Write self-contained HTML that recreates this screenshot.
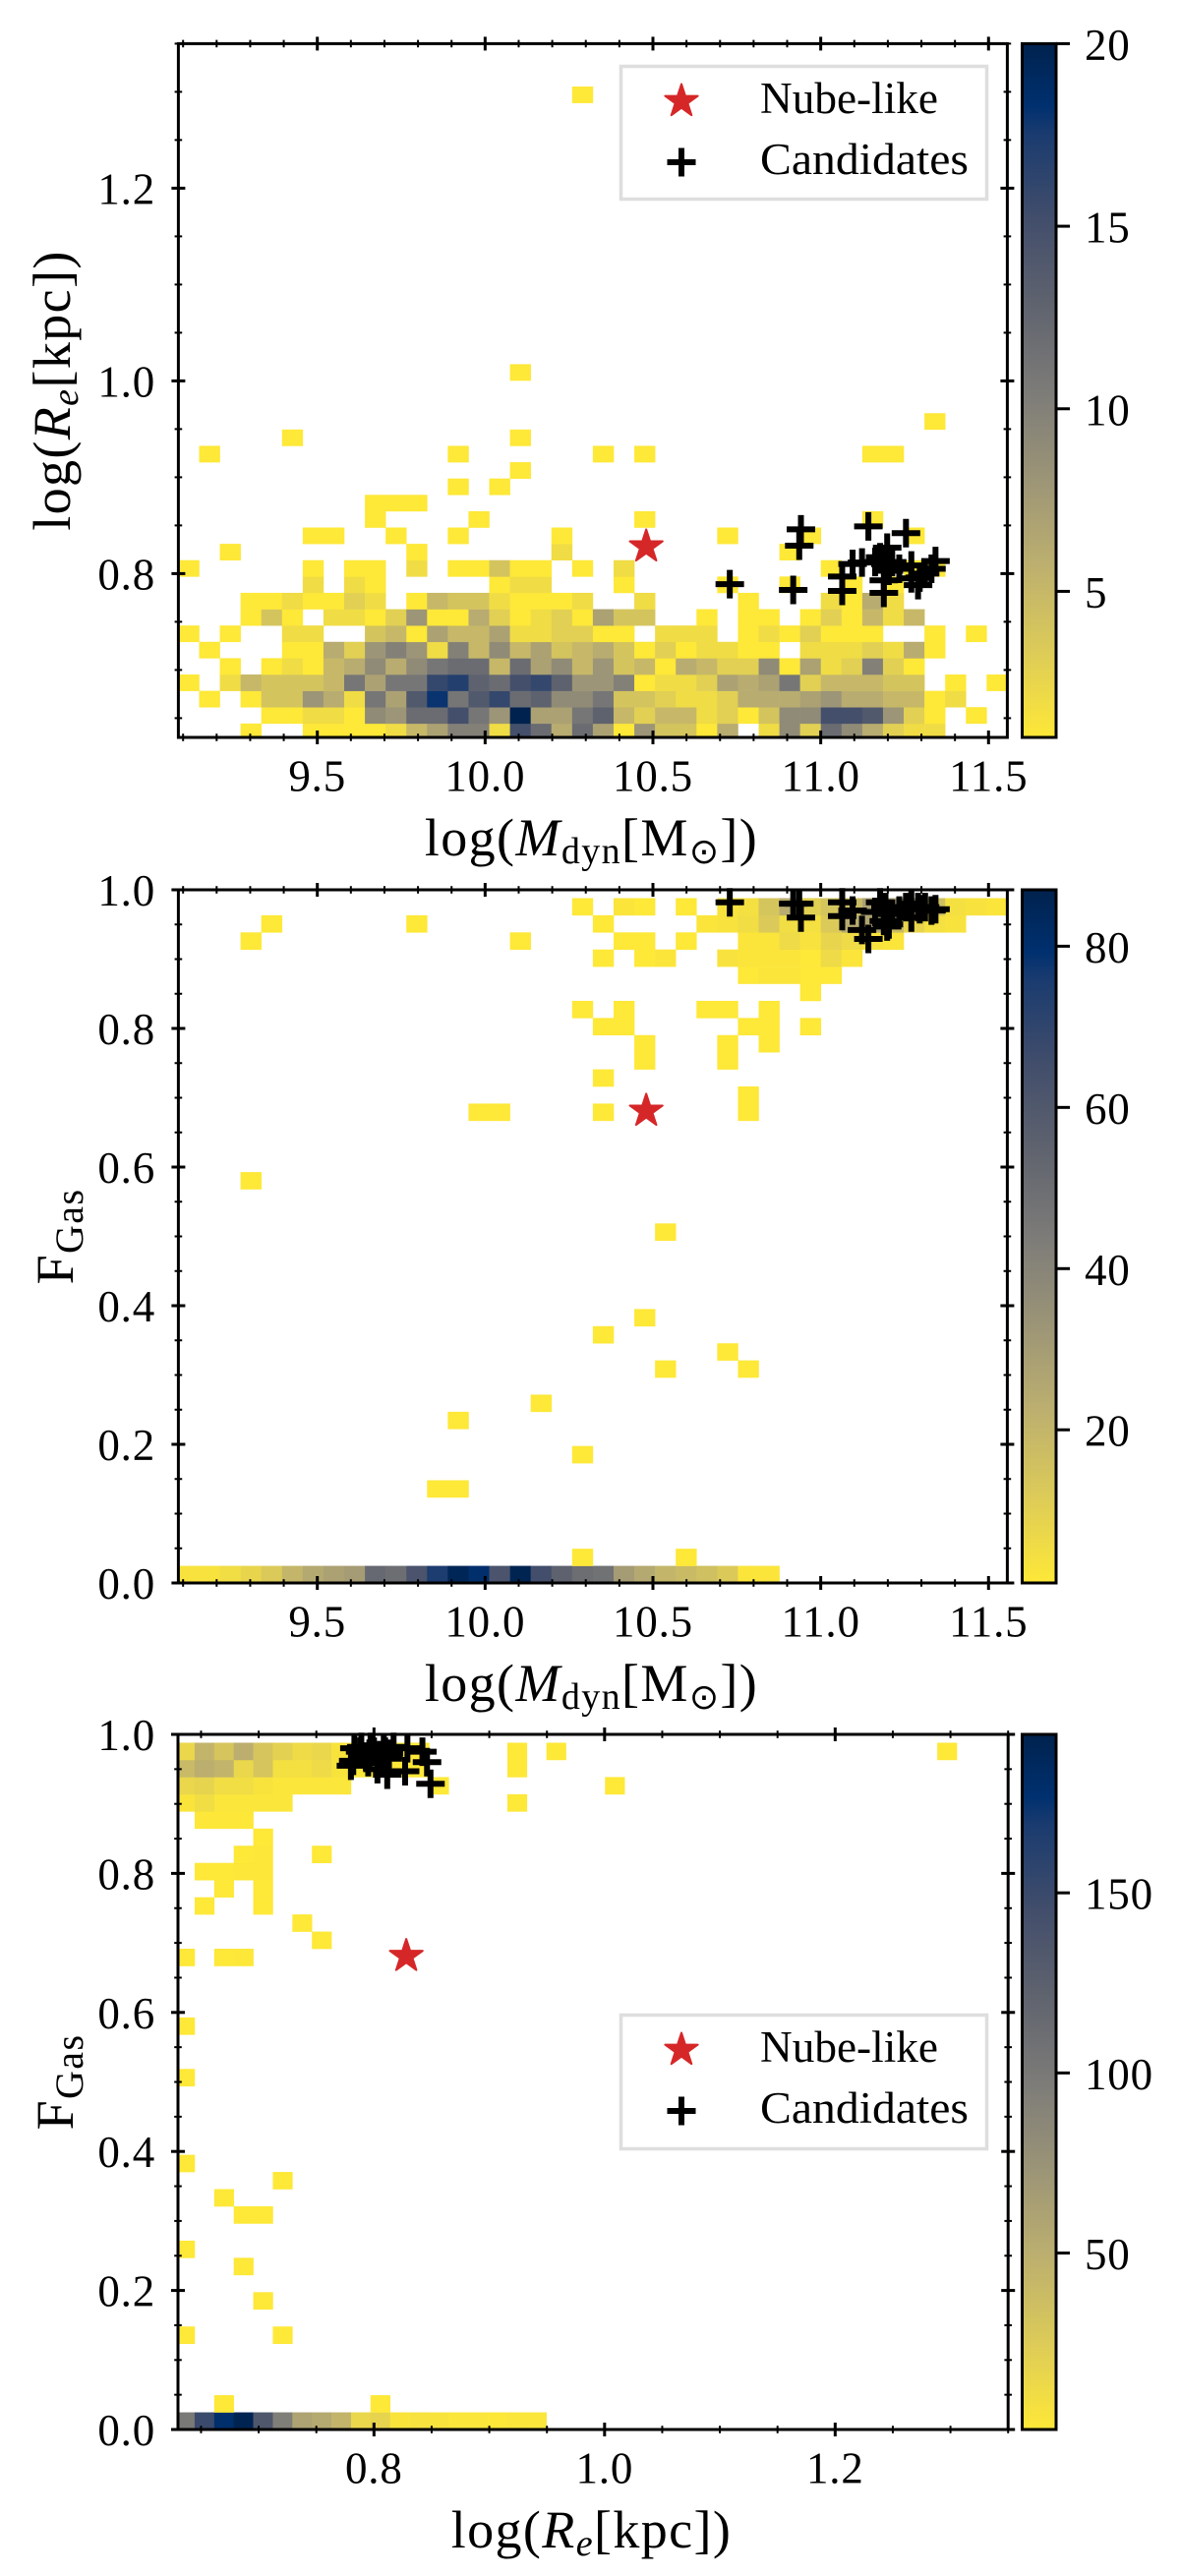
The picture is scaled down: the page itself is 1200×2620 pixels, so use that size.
<!DOCTYPE html>
<html lang="en">
<head>
<meta charset="utf-8">
<title>Nube-like candidates: binned distributions</title>
<style>
html,body{margin:0;padding:0;background:#fff;}
svg{display:block;}
text{font-family:"Liberation Serif","DejaVu Serif",serif;fill:#000;}
.axis-label{font-size:54px;letter-spacing:1.4px;}
.legend-text{font-size:45px;}
</style>
</head>
<body>
<svg id="figure" xmlns="http://www.w3.org/2000/svg" width="1200" height="2620" viewBox="0 0 1200 2620">
  <defs id="defs">
    <clipPath id="clip-panel-1"><rect x="181.4" y="44.4" width="843" height="705.6"/></clipPath>
    <clipPath id="clip-panel-2"><rect x="181.4" y="905" width="843" height="705"/></clipPath>
    <clipPath id="clip-panel-3"><rect x="181" y="1764" width="844.2" height="707"/></clipPath>
  </defs>

  <g id="panel-1"></g>
  <g id="panel-2"></g>
  <g id="panel-3"></g>

  <text class="axis-label" x="601.5" y="870" text-anchor="middle">log(<tspan font-style="italic">M</tspan><tspan dy="8" font-size="38">dyn</tspan><tspan dy="-8">[M</tspan><tspan dy="8" font-size="36" style="font-family:'DejaVu Sans',sans-serif">⊙</tspan><tspan dy="-8">])</tspan></text>
  <text class="axis-label" transform="translate(71 397) rotate(-90)" text-anchor="middle">log(<tspan font-style="italic">R</tspan><tspan dy="8" font-size="38" font-style="italic">e</tspan><tspan dy="-8">[kpc])</tspan></text>

  <text class="axis-label" x="601.5" y="1730" text-anchor="middle">log(<tspan font-style="italic">M</tspan><tspan dy="8" font-size="38">dyn</tspan><tspan dy="-8">[M</tspan><tspan dy="8" font-size="36" style="font-family:'DejaVu Sans',sans-serif">⊙</tspan><tspan dy="-8">])</tspan></text>
  <text class="axis-label" transform="translate(74 1257.5) rotate(-90)" text-anchor="middle">F<tspan dy="10" font-size="40">Gas</tspan></text>

  <text class="axis-label" x="601.5" y="2591" text-anchor="middle">log(<tspan font-style="italic">R</tspan><tspan dy="8" font-size="38" font-style="italic">e</tspan><tspan dy="-8">[kpc])</tspan></text>
  <text class="axis-label" transform="translate(74 2117.5) rotate(-90)" text-anchor="middle">F<tspan dy="10" font-size="40">Gas</tspan></text>

  <g>
    <rect x="631.5" y="67.5" width="372" height="135" fill="#fff" stroke="#dedede" stroke-width="3.5"/>
    <g id="legend-marks-1"></g>
    <text class="legend-text" x="773" y="115" textLength="181" lengthAdjust="spacingAndGlyphs">Nube-like</text>
    <text class="legend-text" x="773" y="177" textLength="212" lengthAdjust="spacingAndGlyphs">Candidates</text>
  </g>
  <g>
    <rect x="631.5" y="2049.5" width="372" height="136" fill="#fff" stroke="#dedede" stroke-width="3.5"/>
    <g id="legend-marks-3"></g>
    <text class="legend-text" x="773" y="2097" textLength="181" lengthAdjust="spacingAndGlyphs">Nube-like</text>
    <text class="legend-text" x="773" y="2159" textLength="212" lengthAdjust="spacingAndGlyphs">Candidates</text>
  </g>
</svg>

<script>
// ---------- DATA ----------
const mdynTicks = [9.5, 10.0, 10.5, 11.0, 11.5];
const mdynTickLabels = ['9.5', '10.0', '10.5', '11.0', '11.5'];
const reTicksA = [0.8, 1.0, 1.2];
const reTickLabelsA = ['0.8', '1.0', '1.2'];
const fgasTicks = [0.0, 0.2, 0.4, 0.6, 0.8, 1.0];
const fgasTickLabels = ['0.0', '0.2', '0.4', '0.6', '0.8', '1.0'];

const cbar1Ticks = [5, 10, 15, 20];
const cbar2Ticks = [20, 40, 60, 80];
const cbar3Ticks = [50, 100, 150];

const mdynBinStart = 9.086;
const mdynBinWidth = 0.06175;
const reBinStart = 0.6275;
const reBinWidth = 0.01695;
const fgasBinStart = 0;
const fgasBinWidth = 0.0247;

const nubeMdyn = 10.48;
const nubeRe = 0.828;
const nubeFgas = 0.681;

const candMdyn = [10.729,10.941,10.936,10.918,11.064,11.064,11.142,11.254,11.198,11.095,11.123,11.162,11.193,11.213,11.27,11.342,11.311,11.188,11.188,11.29,11.27,11.295,11.33,11.177,11.203,11.234];
const candRe = [0.789,0.846,0.829,0.783,0.797,0.782,0.849,0.842,0.827,0.810,0.8115,0.812,0.8097,0.812,0.8085,0.813,0.800,0.780,0.793,0.788,0.795,0.796,0.805,0.817,0.803,0.805];
const candFgas = [0.982,0.960,0.980,0.980,0.982,0.962,0.929,0.975,0.947,0.970,0.942,0.968,0.975,0.965,0.980,0.972,0.975,0.955,0.968,0.975,0.960,0.972,0.970,0.982,0.950,0.970];

// Histogram counts: one array per row (bottom row first), one value per column.
const countsReMdyn = [
[0,0,0,1,0,0,1,1,1,1,2,5,7,10,10,2,15,12,6,12,7,1,8,4,4,1,6,0,2,9,3,12,9,6,3,2,2],
[0,0,0,0,1,1,2,2,1,9,8,12,12,15,11,8,20,7,7,11,13,5,3,5,5,2,3,1,4,9,9,15,15,14,8,3,1,0,1],
[0,1,0,1,4,4,8,6,2,11,7,14,18,11,14,16,12,13,9,9,11,4,4,3,2,2,3,6,6,6,7,8,6,6,5,5,1,2],
[1,0,2,5,4,4,4,5,11,7,11,11,16,17,13,12,15,16,13,8,8,10,1,2,2,3,7,6,7,11,3,5,5,5,4,4,0,1,0,1],
[0,0,1,0,1,2,1,5,6,9,6,9,11,12,12,5,12,7,9,5,8,4,5,1,6,5,3,3,9,1,7,2,3,10,3,1],
[0,1,0,0,0,1,1,6,3,8,10,8,2,10,5,9,5,7,4,5,6,4,1,3,1,2,2,1,1,0,2,2,2,3,2,6,1],
[1,0,1,0,0,2,2,0,0,4,5,1,7,5,5,7,2,2,3,3,1,1,0,2,2,2,0,1,2,1,3,1,1,1,0,0,1,0,1],
[0,0,0,1,4,1,0,2,2,1,3,8,1,1,6,3,1,2,3,1,7,4,4,0,0,1,0,1,1,0,1,3,1,5,2,5],
[0,0,0,1,1,2,1,1,3,2,0,1,5,4,4,2,1,1,1,2,0,0,2,0,0,0,0,1,0,0,0,2,1,6,2],
[0,0,0,0,0,0,2,0,2,1,0,0,0,0,0,1,2,2,0,0,0,1,0,0,0,0,1,0,0,1,0,0,1,0,1],
[1,0,0,0,0,0,1,0,1,1,0,2,0,1,1,4,1,1,0,1,0,2,0,0,0,0,0,0,0,0,0,1,0,0,0,1,1],
[0,0,1,0,0,0,0,0,0,0,0,1,0,0,0,0,0,0,2,0,0,0,0,0,0,0,0,0,0,1],
[0,0,0,0,0,0,1,1,0,0,1,0,0,1,0,0,0,0,1,0,0,0,0,0,0,0,1,0,0,0,1,0,0,0,0,1],
[0,0,0,0,0,0,0,0,0,1,0,0,0,0,1,0,0,0,0,0,0,0,1,0,0,0,0,0,0,0,0,0,0,1],
[0,0,0,0,0,0,0,0,0,1,1,1],
[0,0,0,0,0,0,0,0,0,0,0,0,0,1,0,1],
[0,0,0,0,0,0,0,0,0,0,0,0,0,0,0,0,1],
[0,1,0,0,0,0,0,0,0,0,0,0,0,1,0,0,0,0,0,0,1,0,1,0,0,0,0,0,0,0,0,0,0,1,1],
[0,0,0,0,0,1,0,0,0,0,0,0,0,0,0,0,1],
[0,0,0,0,0,0,0,0,0,0,0,0,0,0,0,0,0,0,0,0,0,0,0,0,0,0,0,0,0,0,0,0,0,0,0,0,1],
[],
[],
[0,0,0,0,0,0,0,0,0,0,0,0,0,0,0,0,1],
[],[],[],[],[],[],[],[],[],[],[],[],[],[],[],[],
[0,0,0,0,0,0,0,0,0,0,0,0,0,0,0,0,0,0,0,1]
];

const countsFgasMdyn = [
[3,3,5,8,12,20,25,28,30,52,50,62,75,85,80,62,86,65,55,50,48,30,25,20,18,16,12,2,2],
[0,0,0,0,0,0,0,0,0,0,0,0,0,0,0,0,0,0,0,1,0,0,0,0,1],
[],[],[],
[0,0,0,0,0,0,0,0,0,0,0,0,1,1],
[],
[0,0,0,0,0,0,0,0,0,0,0,0,0,0,0,0,0,0,0,1],
[],
[0,0,0,0,0,0,0,0,0,0,0,0,0,1],
[0,0,0,0,0,0,0,0,0,0,0,0,0,0,0,0,0,1],
[],
[0,0,0,0,0,0,0,0,0,0,0,0,0,0,0,0,0,0,0,0,0,0,0,1,0,0,0,1],
[0,0,0,0,0,0,0,0,0,0,0,0,0,0,0,0,0,0,0,0,0,0,0,0,0,0,1],
[0,0,0,0,0,0,0,0,0,0,0,0,0,0,0,0,0,0,0,0,1],
[0,0,0,0,0,0,0,0,0,0,0,0,0,0,0,0,0,0,0,0,0,0,1],
[],[],[],[],
[0,0,0,0,0,0,0,0,0,0,0,0,0,0,0,0,0,0,0,0,0,0,0,1],
[],[],
[0,0,0,1],
[],[],[],
[0,0,0,0,0,0,0,0,0,0,0,0,0,0,1,1,0,0,0,0,1,0,0,0,0,0,0,1],
[0,0,0,0,0,0,0,0,0,0,0,0,0,0,0,0,0,0,0,0,0,0,0,0,0,0,0,1],
[0,0,0,0,0,0,0,0,0,0,0,0,0,0,0,0,0,0,0,0,1],
[0,0,0,0,0,0,0,0,0,0,0,0,0,0,0,0,0,0,0,0,0,0,1,0,0,0,1],
[0,0,0,0,0,0,0,0,0,0,0,0,0,0,0,0,0,0,0,0,0,0,1,0,0,0,1,0,1],
[0,0,0,0,0,0,0,0,0,0,0,0,0,0,0,0,0,0,0,0,1,1,0,0,0,0,0,1,1,0,1],
[0,0,0,0,0,0,0,0,0,0,0,0,0,0,0,0,0,0,0,1,0,1,0,0,0,1,1,0,1],
[0,0,0,0,0,0,0,0,0,0,0,0,0,0,0,0,0,0,0,0,0,0,0,0,0,0,0,0,0,0,1],
[0,0,0,0,0,0,0,0,0,0,0,0,0,0,0,0,0,0,0,0,0,0,0,0,0,0,0,1,2,2,1,1],
[0,0,0,0,0,0,0,0,0,0,0,0,0,0,0,0,0,0,0,0,1,0,1,2,0,0,3,2,2,2,1,6,2],
[0,0,0,1,0,0,0,0,0,0,0,0,0,0,0,0,1,0,0,0,0,1,1,0,1,0,0,2,2,6,3,8,6,3,2],
[0,0,0,0,1,0,0,0,0,0,0,1,0,0,0,0,0,0,0,0,1,0,0,0,0,2,3,5,12,5,4,12,24,26,18,8,4,3],
[0,0,0,0,0,0,0,0,0,0,0,0,0,0,0,0,0,0,0,1,0,2,1,0,1,0,3,4,14,24,10,14,18,28,30,30,16,4,3,2]
];

const countsFgasRe = [
[100,150,178,192,135,95,60,55,45,15,18,4,6,5,3,3,2,3,3],
[0,0,1,0,0,0,0,0,0,0,1],
[],[],[],
[1,0,0,0,0,1],
[],
[0,0,0,0,1],
[],
[0,0,0,1],
[1],
[],
[0,0,0,1,1],
[0,0,1],
[0,0,0,0,0,1],
[1],
[],[],[],[],
[1],
[],[],
[1],
[],[],[],
[1,0,1,2],
[0,0,0,0,0,0,0,1],
[0,0,0,0,0,0,1],
[0,1,0,0,1],
[0,0,1,0,1],
[0,1,1,2,2],
[0,0,0,1,2,0,0,1],
[0,0,0,0,1],
[0,2,2,2],
[4,10,3,3,3,3,0,0,0,0,0,0,0,0,0,0,0,1],
[15,18,10,10,5,3,3,3,3,0,0,0,0,1,0,0,0,0,0,0,0,0,1],
[40,50,45,15,30,8,8,12,5,2,1,2,1,0,0,0,0,1],
[15,45,30,50,30,20,12,15,5,3,3,2,1,0,0,0,0,1,0,1,0,0,0,0,0,0,0,0,0,0,0,0,0,0,0,0,0,0,0,1]
];

// cividis colormap table
const cividisAt = [0, 0.09, 0.13, 0.25, 0.375, 0.5, 0.625, 0.75, 0.875, 1];
const cividisHex = ['#00224e','#00306f','#1a3b6f','#414d6b','#5f636e','#7c7b78','#9b9477','#bcaf6f','#dccb58','#fee838'];

// ---------- HELPERS ----------
const NS = 'http://www.w3.org/2000/svg';
function mk(tag, attrs, parent) {
  const el = document.createElementNS(NS, tag);
  for (const k in attrs) el.setAttribute(k, attrs[k]);
  parent.appendChild(el);
  return el;
}
function linear(d0, d1, r0, r1) {
  return function (v) { return r0 + (v - d0) * (r1 - r0) / (d1 - d0); };
}
function hexToRgb(h) {
  return [parseInt(h.slice(1, 3), 16), parseInt(h.slice(3, 5), 16), parseInt(h.slice(5, 7), 16)];
}
function cividis(t) {
  t = Math.max(0, Math.min(1, t));
  for (let i = 1; i < cividisAt.length; i++) {
    if (t <= cividisAt[i]) {
      const f = (t - cividisAt[i - 1]) / (cividisAt[i] - cividisAt[i - 1]);
      const a = hexToRgb(cividisHex[i - 1]);
      const b = hexToRgb(cividisHex[i]);
      return 'rgb(' + a.map(function (v, j) { return Math.round(v + (b[j] - v) * f); }).join(',') + ')';
    }
  }
  return cividisHex[cividisHex.length - 1];
}
function starPoints(cx, cy, R) {
  const pts = [];
  for (let i = 0; i < 10; i++) {
    const r = i % 2 === 0 ? R : R * 0.382;
    const a = -Math.PI / 2 + i * Math.PI / 5;
    pts.push((cx + r * Math.cos(a)).toFixed(2) + ',' + (cy + r * Math.sin(a)).toFixed(2));
  }
  return pts.join(' ');
}
function drawStar(parent, cx, cy) {
  const s = mk('polygon', {points: starPoints(cx, cy, 17.5), fill: '#d62728', stroke: '#d62728', 'stroke-width': 2, 'stroke-linejoin': 'round'}, parent);
  
  
}
function drawPlus(parent, cx, cy) {
  const p = mk('path', {d: 'M' + (cx - 14.5) + ' ' + cy + 'H' + (cx + 14.5) + 'M' + cx + ' ' + (cy - 14.5) + 'V' + (cy + 14.5), stroke: '#000', 'stroke-width': 6, fill: 'none'}, parent);
  
  
}
function tickLine(parent, x1, y1, x2, y2, w, name) {
  const t = mk('line', {x1: x1, y1: y1, x2: x2, y2: y2, stroke: '#000', 'stroke-width': w}, parent);
  
  
}
function tickText(parent, x, y, str, anchor, name) {
  const t = mk('text', {x: x, y: y, 'text-anchor': anchor, 'font-size': 45, 'letter-spacing': 0.8}, parent);
  t.textContent = str;
  
  
}

// colorbar gradient
const defs = document.getElementById('defs');
const grad = mk('linearGradient', {id: 'cbar-gradient', x1: 0, y1: 0, x2: 0, y2: 1}, defs);
cividisAt.forEach(function (at, i) {
  mk('stop', {offset: at, 'stop-color': cividisHex[i]}, grad);
});

// ---------- PANEL DRAWING ----------
function drawPanel(cfg) {
  const g = document.getElementById(cfg.id);
  const sx = linear(cfg.xlim[0], cfg.xlim[1], cfg.left, cfg.right);
  const sy = linear(cfg.ylim[0], cfg.ylim[1], cfg.bottom, cfg.top);
  const cs = linear(cfg.vmin, cfg.vmax, cfg.bottom, cfg.top);

  // heatmap
  const cells = mk('g', {'clip-path': 'url(#clip-' + cfg.id + ')'}, g);
  
  
  cfg.counts.forEach(function (row, r) {
    row.forEach(function (count, c) {
      if (!count) return;
      const x0 = sx(cfg.xBinStart + c * cfg.xBinWidth);
      const x1 = sx(cfg.xBinStart + (c + 1) * cfg.xBinWidth);
      const y0 = sy(cfg.yBinStart + r * cfg.yBinWidth);
      const y1 = sy(cfg.yBinStart + (r + 1) * cfg.yBinWidth);
      const t = (count - cfg.vmin) / (cfg.vmax - cfg.vmin);
      const cell = mk('rect', {x: x0.toFixed(2), y: y1.toFixed(2), width: (x1 - x0 + 0.3).toFixed(2), height: (y0 - y1 + 0.3).toFixed(2), fill: cividis(1 - t)}, cells);
      
      
    });
  });

  // markers
  const marks = mk('g', {}, g);
  
  
  cfg.candX.forEach(function (xv, i) {
    drawPlus(marks, sx(xv), sy(cfg.candY[i]));
  });
  drawStar(marks, sx(cfg.nubeX), sy(cfg.nubeY));

  // x ticks (both sides)
  const axes = mk('g', {}, g);
  
  
  for (let v = cfg.xMinorFrom; v <= cfg.xlim[1] + 1e-9; v += cfg.xMinorStep) {
    const x = sx(v);
    if (x < cfg.left) continue;
    tickLine(axes, x, cfg.bottom - 3.8, x, cfg.bottom + 3.8, 2, 'x-minor-tick');
    tickLine(axes, x, cfg.top - 3.8, x, cfg.top + 3.8, 2, 'x-minor-tick');
  }
  cfg.xTicks.forEach(function (v, i) {
    const x = sx(v);
    tickLine(axes, x, cfg.bottom - 7, x, cfg.bottom + 7, 3, 'x-major-tick');
    tickLine(axes, x, cfg.top - 7, x, cfg.top + 7, 3, 'x-major-tick');
    tickText(axes, x, cfg.bottom + 54.5, cfg.xLabels[i], 'middle', 'x-tick-label');
  });

  // y ticks (both sides)
  for (let v = cfg.yMinorFrom; v <= cfg.ylim[1] + 1e-9; v += cfg.yMinorStep) {
    const y = sy(v);
    if (y > cfg.bottom) continue;
    tickLine(axes, cfg.left - 3.8, y, cfg.left + 3.8, y, 2, 'y-minor-tick');
    tickLine(axes, cfg.right - 3.8, y, cfg.right + 3.8, y, 2, 'y-minor-tick');
  }
  cfg.yTicks.forEach(function (v, i) {
    const y = sy(v);
    tickLine(axes, cfg.left - 7, y, cfg.left + 7, y, 3, 'y-major-tick');
    tickLine(axes, cfg.right - 7, y, cfg.right + 7, y, 3, 'y-major-tick');
    tickText(axes, 158, y + 16, cfg.yLabels[i], 'end', 'y-tick-label');
  });

  // spines
  const frame = mk('rect', {x: cfg.left, y: cfg.top, width: cfg.right - cfg.left, height: cfg.bottom - cfg.top, fill: 'none', stroke: '#000', 'stroke-width': 3}, axes);
  
  

  // colorbar
  const cb = mk('g', {}, g);
  
  
  const bar = mk('rect', {x: 1039.5, y: cfg.top, width: 34.5, height: cfg.bottom - cfg.top, fill: 'url(#cbar-gradient)', stroke: '#000', 'stroke-width': 3}, cb);
  
  
  cfg.cbarTicks.forEach(function (v) {
    const y = cs(v);
    tickLine(cb, 1074, y, 1088, y, 3, 'colorbar-tick');
    tickText(cb, 1103, y + 16.5, String(v), 'start', 'colorbar-tick-label');
  });
}

drawPanel({
  id: 'panel-1', left: 181.4, right: 1024.4, top: 44.4, bottom: 750,
  xlim: [9.086, 11.556], ylim: [0.63, 1.35],
  xTicks: mdynTicks, xLabels: mdynTickLabels, xMinorFrom: 9.1, xMinorStep: 0.1,
  yTicks: reTicksA, yLabels: reTickLabelsA, yMinorFrom: 0.65, yMinorStep: 0.05,
  xBinStart: mdynBinStart, xBinWidth: mdynBinWidth, yBinStart: reBinStart, yBinWidth: reBinWidth,
  counts: countsReMdyn, vmin: 1, vmax: 20, cbarTicks: cbar1Ticks,
  candX: candMdyn, candY: candRe, nubeX: nubeMdyn, nubeY: nubeRe
});
drawPanel({
  id: 'panel-2', left: 181.4, right: 1024.4, top: 905, bottom: 1610,
  xlim: [9.086, 11.556], ylim: [0, 1],
  xTicks: mdynTicks, xLabels: mdynTickLabels, xMinorFrom: 9.1, xMinorStep: 0.1,
  yTicks: fgasTicks, yLabels: fgasTickLabels, yMinorFrom: 0, yMinorStep: 0.05,
  xBinStart: mdynBinStart, xBinWidth: mdynBinWidth, yBinStart: fgasBinStart, yBinWidth: fgasBinWidth,
  counts: countsFgasMdyn, vmin: 1, vmax: 87, cbarTicks: cbar2Ticks,
  candX: candMdyn, candY: candFgas, nubeX: nubeMdyn, nubeY: nubeFgas
});
drawPanel({
  id: 'panel-3', left: 181, right: 1025.2, top: 1764, bottom: 2471,
  xlim: [0.63, 1.35], ylim: [0, 1],
  xTicks: reTicksA, xLabels: reTickLabelsA, xMinorFrom: 0.65, xMinorStep: 0.05,
  yTicks: fgasTicks, yLabels: fgasTickLabels, yMinorFrom: 0, yMinorStep: 0.05,
  xBinStart: reBinStart, xBinWidth: reBinWidth, yBinStart: fgasBinStart, yBinWidth: fgasBinWidth,
  counts: countsFgasRe, vmin: 1, vmax: 194, cbarTicks: cbar3Ticks,
  candX: candRe, candY: candFgas, nubeX: nubeRe, nubeY: nubeFgas
});

// legend markers
const lm1 = document.getElementById('legend-marks-1');
drawStar(lm1, 693, 103);
drawPlus(lm1, 693, 165);
const lm3 = document.getElementById('legend-marks-3');
drawStar(lm3, 693, 2085);
drawPlus(lm3, 693, 2147);
</script>
</body>
</html>
